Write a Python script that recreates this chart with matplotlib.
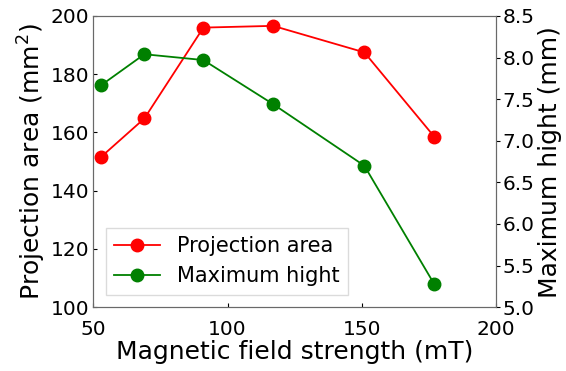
import matplotlib.pyplot as plt

# magnetic field strength (mT)
field = [53, 69, 91, 117, 151, 177]
# projection area (mm^2)
area = [151.7, 164.8, 196.0, 196.6, 187.5, 158.6]
# maximum height (mm)
height = [7.67, 8.04, 7.97, 7.44, 6.70, 5.28]

fig, ax = plt.subplots(figsize=(5.66, 3.71), dpi=100)
ax2 = ax.twinx()

l1, = ax.plot(field, area, color='red', marker='o', markersize=9, lw=1.3, label='Projection area')
l2, = ax2.plot(field, height, color='green', marker='o', markersize=9, lw=1.3, label='Maximum hight')

ax.set_xlim(50, 200)
ax.set_ylim(100, 200)
ax2.set_ylim(5.0, 8.5)
ax.set_xticks([50, 100, 150, 200])
ax.set_yticks([100, 120, 140, 160, 180, 200])
ax2.set_yticks([5.0, 5.5, 6.0, 6.5, 7.0, 7.5, 8.0, 8.5])

ax.tick_params(direction='in', labelsize=14.5, length=3, pad=3)
ax.tick_params(axis='x', pad=9)
ax2.tick_params(direction='out', labelsize=14.5, length=3, pad=2)

ax.set_xlabel('Magnetic field strength (mT)', fontsize=18, labelpad=1)
ax.set_ylabel('Projection area (mm$^2$)', fontsize=18, labelpad=2)
ax2.set_ylabel('Maximum hight (mm)', fontsize=18, labelpad=2)

ax.legend(handles=[l1, l2], loc='lower left', fontsize=15, edgecolor='lightgray',
          fancybox=False, borderaxespad=0.6, handlelength=2.2)

for a in (ax, ax2):
    for s in a.spines.values():
        s.set_color('dimgray')

plt.subplots_adjust(left=0.165, right=0.876, top=0.957, bottom=0.172)
plt.savefig('out.png', dpi=100)
